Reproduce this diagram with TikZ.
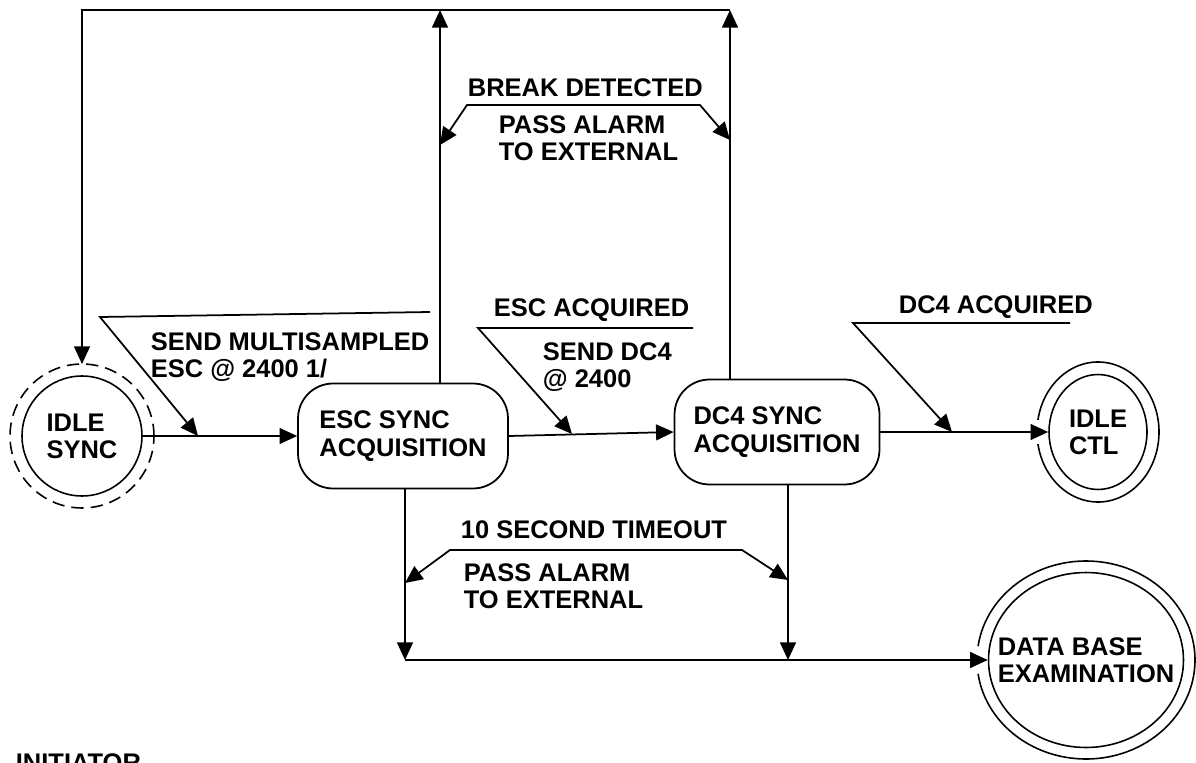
\documentclass[tikz,border=0pt]{standalone}
\usepackage{fontspec}
\setmainfont{Liberation Sans}
\usetikzlibrary{arrows.meta, shapes.geometric, positioning}

\newcommand{\chartfont}{\fontsize{14.5}{15.5}\selectfont\bfseries}

\tikzset{
  endstate/.style={circle, draw, line width=0.9pt, minimum size=2.4cm, inner sep=0pt, align=left, font=\chartfont},
  farstate/.style={ellipse, draw, line width=0.9pt, inner sep=0pt, align=left, font=\chartfont},
  syncbox/.style={rectangle, rounded corners=0.7cm, draw, line width=1pt, minimum width=4.2cm, minimum height=2.1cm, align=left, font=\chartfont},
  lbl/.style={anchor=north west, inner sep=0pt, align=left, font=\chartfont},
}

\begin{document}
\begin{tikzpicture}[x=0.02cm, y=-0.02cm, line width=1pt, >={Triangle[length=10pt,width=9pt]}]
        \useasboundingbox (0,0) rectangle (1196,763);

        % States
        \node[endstate] (idlesync) at (82,436) {IDLE\\SYNC};
        \draw[dashed, dash pattern=on 7pt off 4pt, line width=0.9pt] (idlesync.center) circle (1.44cm);
        \node[syncbox] (escsync) at (403,436) {ESC SYNC\\ACQUISITION};
        \node[syncbox, minimum width=4.1cm] (dcsync) at (777,432) {DC4 SYNC\\ACQUISITION};
        \node[farstate, minimum width=1.96cm, minimum height=2.3cm] (idlectl) at (1098,432) {IDLE\\CTL};
        \draw[line width=0.9pt] (idlectl.center) ++(190:61 and 70) arc[start angle=190, end angle=530, x radius=61, y radius=70];
        \node[farstate, inner xsep=-17pt, minimum width=3.9cm, minimum height=3.5cm] (database) at (1086,660) {DATA BASE\\EXAMINATION};
        \draw[line width=0.9pt] (database.center) ++(188:109 and 99) arc[start angle=188, end angle=532, x radius=109, y radius=99];
        \node[lbl] (initiator) at (15,753) {INITIATOR};

        % Transitions along the row
        \draw[->] (idlesync.east) -- (escsync.west);
        \draw[->] (escsync.east) -- (dcsync.west);
        \draw[->] (dcsync.east) -- (idlectl.west);

        % Break loop over the top
        \coordinate (topM) at (440,10);
        \coordinate (topR) at (730,10);
        \coordinate (topL) at (idlesync |- topM);
        \draw[->] (escsync.north -| topM) -- (topM);
        \draw[->] (dcsync.north -| topR) -- (topR);
        \draw[->] (topR) -- (topL) -- ([yshift=1.44cm]idlesync.center);

        % Timeout path underneath
        \coordinate (botL) at (405,660);
        \coordinate (botR) at (788,660);
        \draw[->] (escsync.south -| botL) -- (botL);
        \draw[->] (dcsync.south -| botR) -- (botR);
        \draw[->] (botL) -- (database.west);

        % Condition / action labels
        \node[lbl] (lblsend) at (150,332) {SEND MULTISAMPLED\\ESC @ 2400 1/};
        \coordinate (sendR) at (430,312);
        \coordinate (sendT) at (198,436);
        \draw[->] (sendR) -- (100,317) -- (sendT);

        \node[lbl] (lblbreak) at (467,78) {BREAK DETECTED};
        \node[lbl] (lblpassA) at (498,115) {PASS ALARM\\TO EXTERNAL};
        \coordinate (breakL) at (440,145);
        \coordinate (breakR) at (730,140);
        \draw[<->] (breakL) -- (467,105) -- (700,105) -- (breakR);

        \node[lbl] (lblescacq) at (493,298) {ESC ACQUIRED};
        \node[lbl] (lbldcsend) at (542,342) {SEND DC4\\@ 2400};
        \coordinate (escR) at (693,328);
        \coordinate (escT) at (572,434);
        \draw[->] (escR) -- (478,328) -- (escT);

        \node[lbl] (lbldcacq) at (898,295) {DC4 ACQUIRED};
        \coordinate (dcR) at (1070,323);
        \coordinate (dcT) at (952,432);
        \draw[->] (dcR) -- (853,323) -- (dcT);

        \node[lbl] (lbltime) at (460,520) {10 SECOND TIMEOUT};
        \node[lbl] (lblpassB) at (463,563) {PASS ALARM\\TO EXTERNAL};
        \coordinate (timeL) at (405,583);
        \coordinate (timeR) at (788,580);
        \draw[<->] (timeL) -- (450,550) -- (742,550) -- (timeR);

    \end{tikzpicture}
\end{document}
